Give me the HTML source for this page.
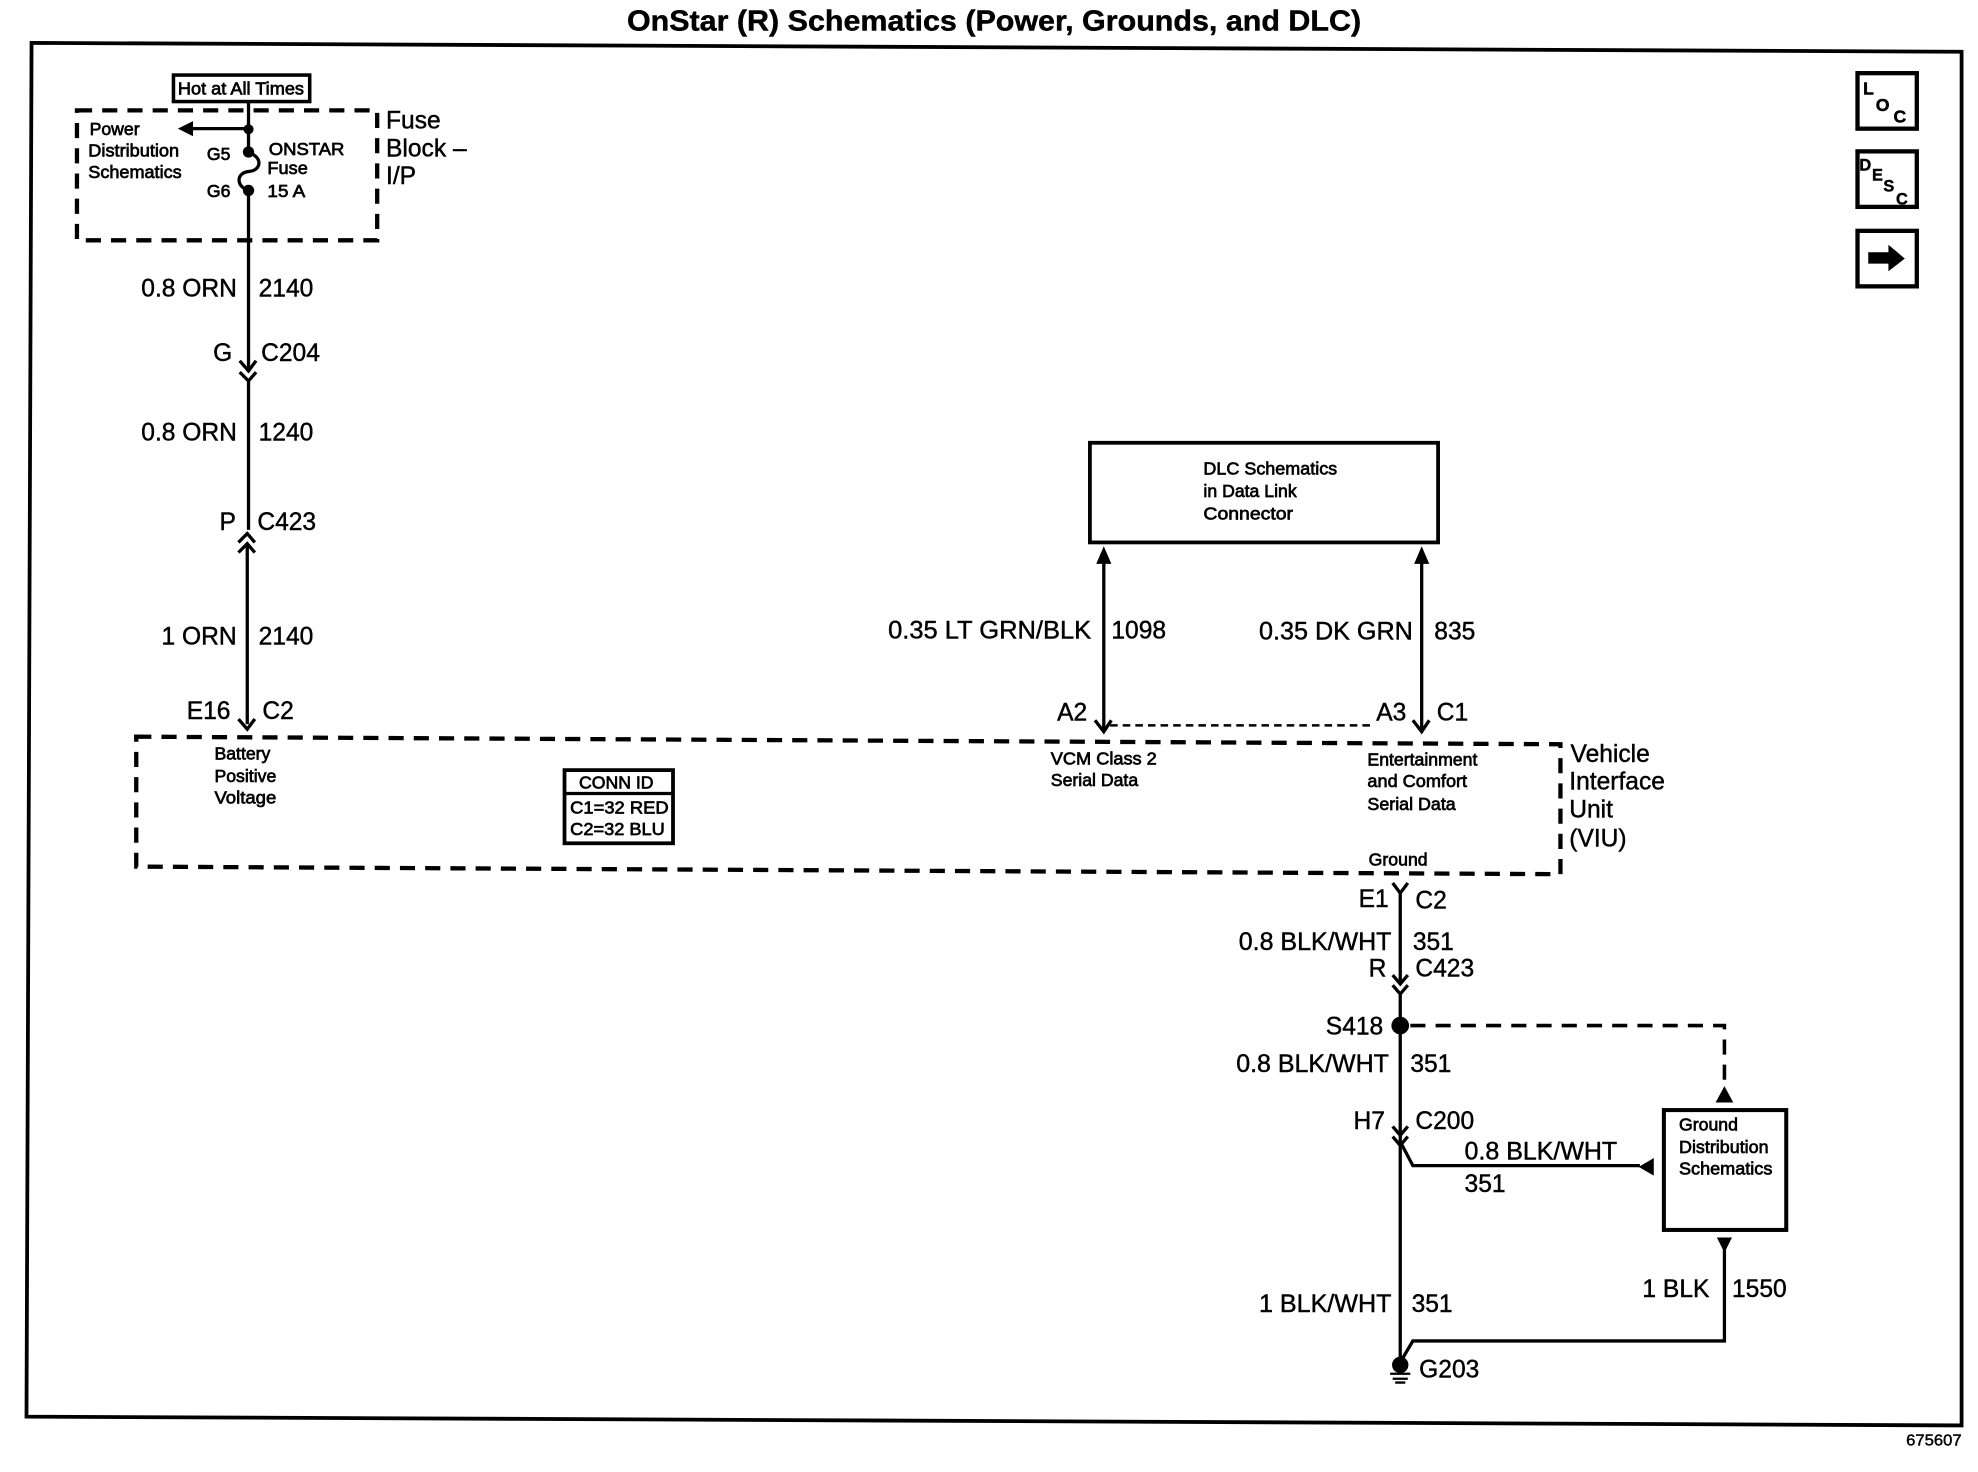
<!DOCTYPE html>
<html><head><meta charset="utf-8"><style>
html,body{margin:0;padding:0;background:#fff;width:1978px;height:1472px;overflow:hidden}
svg{display:block}
text{font-family:"Liberation Sans",sans-serif;fill:#000;stroke:#000;stroke-width:.35}
.w{font-size:19.5px}
.s{font-size:14px;stroke-width:.55}
.b{font-size:19.5px}
.k{fill:none;stroke:#000;stroke-width:2.6}
.d{fill:none;stroke:#000;stroke-width:3.4;stroke-dasharray:12 8}
.f{fill:#000;stroke:none}
</style></head><body>
<svg width="1978" height="1472" viewBox="0 0 1568 1166.9" xmlns="http://www.w3.org/2000/svg">
<text x="497" y="24" font-size="23" font-weight="bold" textLength="582" lengthAdjust="spacingAndGlyphs">OnStar (R) Schematics (Power, Grounds, and DLC)</text>
<path d="M25 34 L1555 41 L1555 1130 L21 1123 Z" fill="none" stroke="#000" stroke-width="3"/>

<!-- Icons -->
<rect x="1472.5" y="58" width="47" height="44" fill="none" stroke="#000" stroke-width="3.4"/>
<text x="1477" y="75" font-size="14" font-weight="bold">L</text><text x="1487" y="88" font-size="14" font-weight="bold">O</text><text x="1501" y="97" font-size="14" font-weight="bold">C</text>
<rect x="1472.5" y="120" width="47" height="44" fill="none" stroke="#000" stroke-width="3.4"/>
<text x="1474" y="135" font-size="13" font-weight="bold">D</text><text x="1484" y="143" font-size="13" font-weight="bold">E</text><text x="1493" y="152" font-size="13" font-weight="bold">S</text><text x="1503" y="162" font-size="13" font-weight="bold">C</text>
<rect x="1472.5" y="183" width="47" height="44" fill="none" stroke="#000" stroke-width="3.4"/>
<path class="f" d="M1481 200 H1497 V194 L1510 205 L1497 215 V209 H1481 Z"/>

<!-- Fuse block -->
<rect x="137.5" y="59.5" width="108" height="21" fill="none" stroke="#000" stroke-width="2.8"/>
<text class="s" x="141" y="75" textLength="100" lengthAdjust="spacingAndGlyphs">Hot at All Times</text>
<rect x="61" y="87.5" width="238" height="103" class="d"/>
<text class="b" x="306" y="102">Fuse</text><text class="b" x="306" y="124">Block –</text><text class="b" x="306" y="146">I/P</text>
<text class="s" x="71" y="107">Power</text><text class="s" x="70" y="124" textLength="72" lengthAdjust="spacingAndGlyphs">Distribution</text><text class="s" x="70" y="141" textLength="74" lengthAdjust="spacingAndGlyphs">Schematics</text>
<text class="s" x="164" y="127">G5</text><text class="s" x="164" y="156">G6</text>
<text class="s" x="213" y="123" textLength="60" lengthAdjust="spacingAndGlyphs">ONSTAR</text><text class="s" x="212" y="138" textLength="32" lengthAdjust="spacingAndGlyphs">Fuse</text><text class="s" x="212" y="156" textLength="30" lengthAdjust="spacingAndGlyphs">15 A</text>
<path class="k" d="M197 80 V121 M197 121 C208 124 208 135 197 136 C187 137 187 148 197 151 M197 151 V295"/>
<path class="k" d="M197 102 H150"/>
<path class="f" d="M141 102 L153 96 V108 Z"/>
<circle class="f" cx="197" cy="102.5" r="4"/><circle class="f" cx="197" cy="120.5" r="4.5"/><circle class="f" cx="197" cy="151" r="4.5"/>
<path class="k" d="M190 286 L197 294 L203 286 M190 295 L197 302 L203 295 M197 302 V420"/>
<path class="k" d="M189 430 L196 423 L202 430 M189 438 L196 431 L202 438 M196 431 V574 M189 570 L196 578 L202 570"/>

<text class="w" x="112" y="235">0.8 ORN</text><text class="w" x="205" y="235">2140</text>
<text class="w" x="169" y="286">G</text><text class="w" x="207" y="286">C204</text>
<text class="w" x="112" y="349">0.8 ORN</text><text class="w" x="205" y="349">1240</text>
<text class="w" x="174" y="420">P</text><text class="w" x="204" y="420">C423</text>
<text class="w" x="128" y="511">1 ORN</text><text class="w" x="205" y="511">2140</text>
<text class="w" x="148" y="570">E16</text><text class="w" x="208" y="570">C2</text>

<!-- VIU -->
<path class="d" d="M108 584 L1237 590 V693 L108 687 Z"/>
<text class="b" x="1245" y="604">Vehicle</text><text class="b" x="1244" y="626">Interface</text><text class="b" x="1244" y="648">Unit</text><text class="b" x="1244" y="671">(VIU)</text>
<text class="s" x="170" y="602">Battery</text><text class="s" x="170" y="620">Positive</text><text class="s" x="170" y="637" textLength="49" lengthAdjust="spacingAndGlyphs">Voltage</text>
<text class="s" x="833" y="606" textLength="84" lengthAdjust="spacingAndGlyphs">VCM Class 2</text><text class="s" x="833" y="623">Serial Data</text>
<text class="s" x="1084" y="607">Entertainment</text><text class="s" x="1084" y="624" textLength="79" lengthAdjust="spacingAndGlyphs">and Comfort</text><text class="s" x="1084" y="642" textLength="70" lengthAdjust="spacingAndGlyphs">Serial Data</text>
<text class="s" x="1085" y="686">Ground</text>

<rect x="447.5" y="610.5" width="86" height="58" fill="none" stroke="#000" stroke-width="3"/>
<path class="k" d="M447 629 H533"/>
<text class="s" x="459" y="625">CONN ID</text><text class="s" x="452" y="645" textLength="78" lengthAdjust="spacingAndGlyphs">C1=32 RED</text><text class="s" x="452" y="662" textLength="75" lengthAdjust="spacingAndGlyphs">C2=32 BLU</text>

<!-- DLC -->
<rect x="864" y="351" width="276" height="79" fill="none" stroke="#000" stroke-width="3"/>
<text class="s" x="954" y="376" textLength="106" lengthAdjust="spacingAndGlyphs">DLC Schematics</text><text class="s" x="954" y="394">in Data Link</text><text class="s" x="954" y="412" textLength="71" lengthAdjust="spacingAndGlyphs">Connector</text>
<path class="k" d="M875 440 V578 M868 571 L875 580 L881 571 M1127 440 V578 M1120 571 L1127 580 L1133 571"/>
<path class="f" d="M875 433 L881 447 H869 Z M1127 433 L1133 447 H1121 Z"/>
<path d="M880 575 H1090" fill="none" stroke="#000" stroke-width="2" stroke-dasharray="6 4"/>
<text class="w" x="704" y="506" textLength="161" lengthAdjust="spacingAndGlyphs">0.35 LT GRN/BLK</text><text class="w" x="881" y="506">1098</text>
<text class="w" x="998" y="507" textLength="122" lengthAdjust="spacingAndGlyphs">0.35 DK GRN</text><text class="w" x="1137" y="507">835</text>
<text class="w" x="838" y="571">A2</text><text class="w" x="1091" y="571">A3</text><text class="w" x="1139" y="571">C1</text>

<!-- Ground wire -->
<path class="k" d="M1104 700 L1110 708 L1116 700 M1110 708 V780 M1104 773 L1110 780 L1116 773 M1104 781 L1110 788 L1116 781 M1110 788 V1082"/>
<path class="k" d="M1104 893 L1110 900 L1116 893 M1104 901 L1110 908 L1116 901 M1110 905 L1120 924 H1300"/>
<path class="f" d="M1299 925 L1311 918 V932 Z"/>
<circle class="f" cx="1110" cy="813" r="7"/>
<path class="d" d="M1118 813 H1367 V862" style="stroke-width:2.8"/>
<path class="f" d="M1367 861 L1374 874 H1360 Z"/>
<rect x="1319" y="880" width="97" height="95" fill="none" stroke="#000" stroke-width="3.2"/>
<text class="s" x="1331" y="896">Ground</text><text class="s" x="1331" y="914" textLength="71" lengthAdjust="spacingAndGlyphs">Distribution</text><text class="s" x="1331" y="931" textLength="74" lengthAdjust="spacingAndGlyphs">Schematics</text>
<path class="f" d="M1367 993 L1373 981 H1361 Z"/>
<path class="k" d="M1367 990 V1063 H1120 L1110 1080"/>
<circle class="f" cx="1110" cy="1082" r="6.5"/>
<path class="k" d="M1102 1089 H1118 M1104 1093 H1116 M1106 1096 H1114" style="stroke-width:1.8"/>
<text class="w" x="982" y="753" textLength="121" lengthAdjust="spacingAndGlyphs">0.8 BLK/WHT</text><text class="w" x="1120" y="753">351</text>
<text class="w" x="1085" y="774">R</text><text class="w" x="1122" y="774">C423</text>
<text class="w" x="1077" y="719">E1</text><text class="w" x="1122" y="720">C2</text>
<text class="w" x="1051" y="820">S418</text>
<text class="w" x="980" y="850" textLength="121" lengthAdjust="spacingAndGlyphs">0.8 BLK/WHT</text><text class="w" x="1118" y="850">351</text>
<text class="w" x="1073" y="895">H7</text><text class="w" x="1122" y="895">C200</text>
<text class="w" x="1161" y="919" textLength="121" lengthAdjust="spacingAndGlyphs">0.8 BLK/WHT</text><text class="w" x="1161" y="945">351</text>
<text class="w" x="998" y="1040" textLength="105" lengthAdjust="spacingAndGlyphs">1 BLK/WHT</text><text class="w" x="1119" y="1040">351</text>
<text class="w" x="1302" y="1028">1 BLK</text><text class="w" x="1373" y="1028">1550</text>
<text class="w" x="1125" y="1092">G203</text>
<text x="1511" y="1146" font-size="12.5" stroke-width=".4" textLength="44" lengthAdjust="spacingAndGlyphs">675607</text>
</svg>
</body></html>
